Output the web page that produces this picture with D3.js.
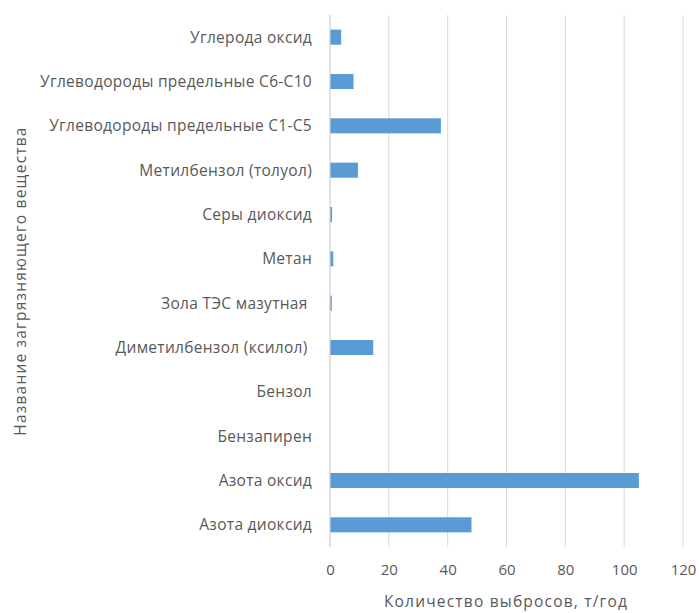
<!DOCTYPE html>
<html>
<head>
<meta charset="utf-8">
<script src="https://cdn.jsdelivr.net/npm/d3@7"></script>
<style>
  html, body { margin: 0; padding: 0; background: #fff; }
  svg { display: block; font-family: "Open Sans", "Noto Sans", sans-serif; }
  text { white-space: pre; }
</style>
</head>
<body>
<svg id="chart" width="699" height="613"></svg>
<script>
// Substances, top to bottom as listed on the chart
const categories = [
  "Углерода оксид",
  "Углеводороды предельные С6-С10",
  "Углеводороды предельные С1-С5",
  "Метилбензол (толуол)",
  "Серы диоксид",
  "Метан",
  "Зола ТЭС мазутная ",
  "Диметилбензол (ксилол) ",
  "Бензол",
  "Бензапирен",
  "Азота оксид",
  "Азота диоксид"
];

// Annual emissions, t/year
const emissions = [3.8, 8.0, 37.7, 9.5, 0.7, 1.1, 0.6, 14.7, 0, 0, 105.0, 48.1];

const xTicks = [0, 20, 40, 60, 80, 100, 120];
const xTitle = "Количество выбросов, т/год";
const yTitle = "Название загрязняющего вещества";

const svg = d3.select("#chart");
const plotTop = 15, plotBottom = 547, plotLeft = 330, plotRight = 683;
const grey = "#595959";

const x = d3.scaleLinear().domain([0, 120]).range([plotLeft, plotRight]);
const y = d3.scaleBand().domain(categories).range([plotTop, plotBottom]).paddingInner(0.66).paddingOuter(0.33);

// Vertical gridlines
svg.append("g")
  .selectAll("line")
  .data(xTicks)
  .join("line")
  .attr("x1", d => x(d)).attr("x2", d => x(d))
  .attr("y1", plotTop).attr("y2", plotBottom)
  .attr("stroke", "#d9d9d9")
  .attr("stroke-width", 1);

// Bars
svg.append("g")
  .selectAll("rect")
  .data(categories.map((c, i) => ({ c, v: emissions[i] })))
  .join("rect")
  .attr("x", x(0))
  .attr("y", d => y(d.c))
  .attr("width", d => x(d.v) - x(0))
  .attr("height", y.bandwidth())
  .attr("fill", "#5b9bd5");

// Category axis line
svg.append("line")
  .attr("x1", x(0)).attr("x2", x(0))
  .attr("y1", plotTop).attr("y2", plotBottom)
  .attr("stroke", "#d9d9d9");

// Category labels
svg.append("g")
  .selectAll("text")
  .data(categories)
  .join("text")
  .attr("x", 312)
  .attr("y", d => y(d) + y.bandwidth() / 2)
  .attr("dy", "0.35em")
  .attr("text-anchor", "end")
  .attr("font-size", 15.5)
  .attr("letter-spacing", 0.3)
  .attr("fill", grey)
  .text(d => d);

// Value axis tick labels
const xAxis = d3.axisBottom(x).tickValues(xTicks).tickSize(0).tickPadding(0);
const gx = svg.append("g").attr("transform", "translate(0,564)").call(xAxis);
gx.select(".domain").remove();
gx.selectAll("text")
  .attr("font-family", "\"Open Sans\", \"Noto Sans\", sans-serif")
  .attr("font-size", 15)
  .attr("fill", grey);

// Axis titles
svg.append("text")
  .attr("x", 506).attr("y", 607)
  .attr("text-anchor", "middle")
  .attr("font-size", 15.5)
  .attr("letter-spacing", 1.2)
  .attr("fill", grey)
  .text(xTitle);

svg.append("text")
  .attr("transform", "translate(21,281) rotate(-90)")
  .attr("text-anchor", "middle")
  .attr("dy", "0.35em")
  .attr("font-size", 15.5)
  .attr("letter-spacing", 1.2)
  .attr("fill", grey)
  .text(yTitle);
</script>
</body>
</html>
